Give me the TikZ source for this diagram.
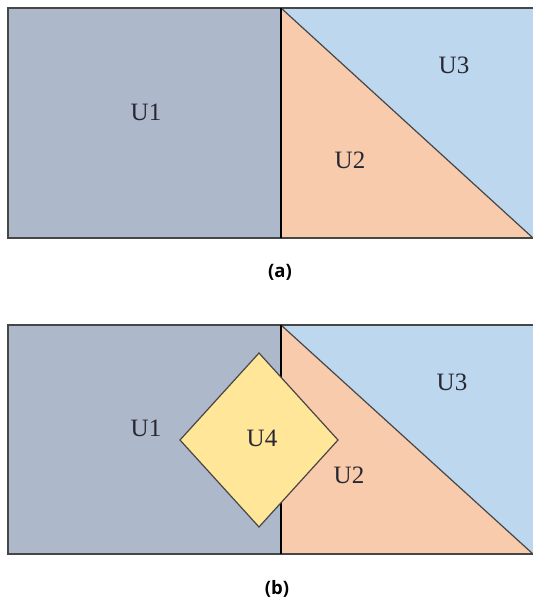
\documentclass[tikz,border=0pt]{standalone}
\usepackage{fontspec}
\setmainfont{Liberation Serif}
\newfontfamily\capfont{Open Sans}
\usetikzlibrary{positioning}
\definecolor{regionone}{RGB}{173,185,202}
\definecolor{regiontwo}{RGB}{248,203,173}
\definecolor{regionthree}{RGB}{189,215,238}
\definecolor{regionfour}{RGB}{255,230,153}
\definecolor{edgegray}{RGB}{70,70,70}
\definecolor{labelgray}{RGB}{40,40,50}

\begin{document}
\begin{tikzpicture}[
  x=1pt, y=-1pt,
  edge/.style={draw=edgegray, line width=1.2pt},
  divider/.style={draw=black, line width=2.4pt},
  region/.style={font=\fontsize{25}{25}\selectfont, text=labelgray, inner sep=0pt},
  caption/.style={font=\capfont\bfseries\fontsize{18.5}{18.5}\selectfont, inner sep=0pt}
]
  \useasboundingbox (0,0) rectangle (533,598);

  % Panel (a)
  \fill[regionone] (8,8) rectangle (281,238);
  \fill[regionthree] (281,8) rectangle (534,238);
  \fill[regiontwo] (281,8) -- (533,238) -- (281,238) -- cycle;
  \draw[edge] (534,8) -- (8,8) -- (8,238) -- (534,238);
  \draw[edge] (281,8) -- (533,238);
  \draw[divider] (281,8) -- (281,238);

  \node[region] (u1a) at (146,112) {U1};
  \node[region] (u2a) at (350,160) {U2};
  \node[region] (u3a) at (454,65) {U3};
  \node[caption] (capa) at (280,272) {(a)};

  % Panel (b)
  \fill[regionone] (8,325) rectangle (281,554);
  \fill[regionthree] (281,325) rectangle (534,554);
  \fill[regiontwo] (281,325) -- (533,554) -- (281,554) -- cycle;
  \draw[edge] (534,325) -- (8,325) -- (8,554) -- (534,554);
  \draw[edge] (281,325) -- (533,554);
  \draw[divider] (281,325) -- (281,554);
  \filldraw[fill=regionfour, edge] (259,353) -- (338,440) -- (259,527) -- (180,440) -- cycle;

  \node[region] (u1b) at (146,428) {U1};
  \node[region] (u4b) at (262,438) {U4};
  \node[region] (u2b) at (349,475) {U2};
  \node[region] (u3b) at (452,382) {U3};
  \node[caption] (capb) at (277,589) {(b)};
\end{tikzpicture}
\end{document}
